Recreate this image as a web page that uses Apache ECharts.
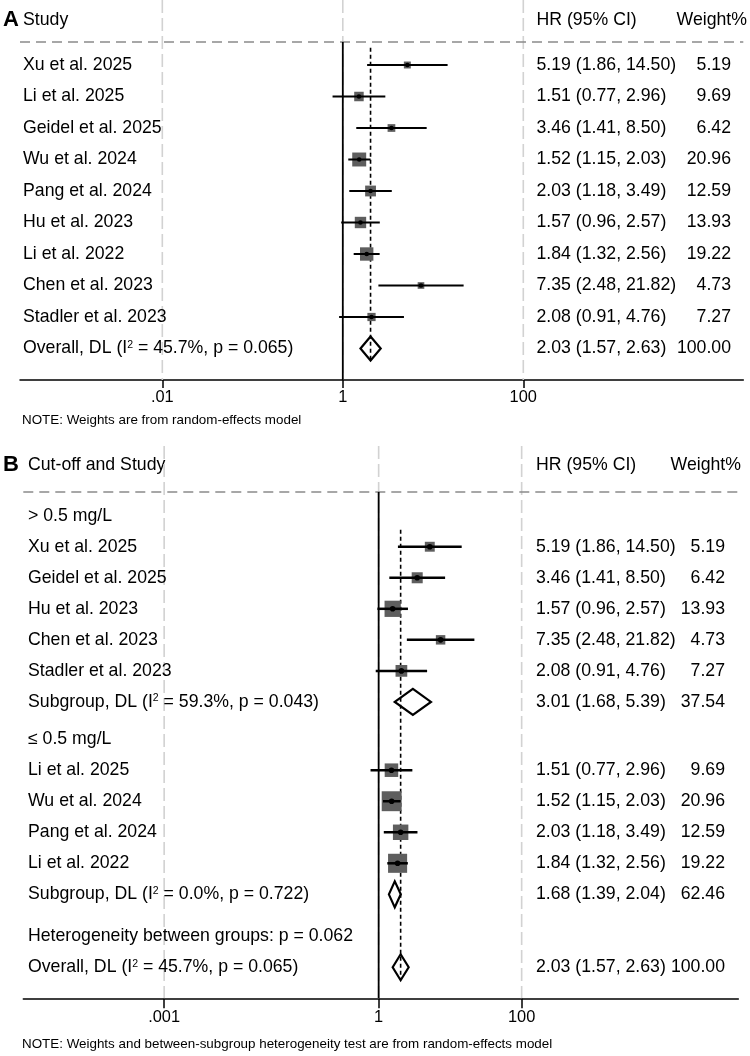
<!DOCTYPE html>
<html><head><meta charset="utf-8">
<script src="https://cdn.jsdelivr.net/npm/echarts@6/dist/echarts.min.js"></script>
<style>html,body{margin:0;padding:0;background:#fff}#c{width:750px;height:1056px}</style>
</head><body><div id="c"></div>
<script>
// ---------------- Panel A data ----------------
const studiesA = ['Xu et al. 2025','Li et al. 2025','Geidel et al. 2025','Wu et al. 2024','Pang et al. 2024','Hu et al. 2023','Li et al. 2022','Chen et al. 2023','Stadler et al. 2023'];
const hrA     = [5.19, 1.51, 3.46, 1.52, 2.03, 1.57, 1.84, 7.35, 2.08];
const lowA    = [1.86, 0.77, 1.41, 1.15, 1.18, 0.96, 1.32, 2.48, 0.91];
const highA   = [14.50, 2.96, 8.50, 2.03, 3.49, 2.57, 2.56, 21.82, 4.76];
const weightA = [5.19, 9.69, 6.42, 20.96, 12.59, 13.93, 19.22, 4.73, 7.27];
const overallLabelA = 'Overall, DL (I{sup|2} = 45.7%, p = 0.065)';
const overallA = [2.03, 1.57, 2.63, 100.00];   // HR, low, high, weight
const tickValuesA = [0.01, 1, 100];
const tickLabelsA = ['.01', '1', '100'];

// ---------------- Panel B data ----------------
const groupLabelsB = ['> 0.5 mg/L', '\u2264 0.5 mg/L'];
const studiesB1 = ['Xu et al. 2025','Geidel et al. 2025','Hu et al. 2023','Chen et al. 2023','Stadler et al. 2023'];
const hrB1     = [5.19, 3.46, 1.57, 7.35, 2.08];
const lowB1    = [1.86, 1.41, 0.96, 2.48, 0.91];
const highB1   = [14.50, 8.50, 2.57, 21.82, 4.76];
const weightB1 = [5.19, 6.42, 13.93, 4.73, 7.27];
const subgroupLabelB1 = 'Subgroup, DL (I{sup|2} = 59.3%, p = 0.043)';
const subgroupB1 = [3.01, 1.68, 5.39, 37.54];
const studiesB2 = ['Li et al. 2025','Wu et al. 2024','Pang et al. 2024','Li et al. 2022'];
const hrB2     = [1.51, 1.52, 2.03, 1.84];
const lowB2    = [0.77, 1.15, 1.18, 1.32];
const highB2   = [2.96, 2.03, 3.49, 2.56];
const weightB2 = [9.69, 20.96, 12.59, 19.22];
const subgroupLabelB2 = 'Subgroup, DL (I{sup|2} = 0.0%, p = 0.722)';
const subgroupB2 = [1.68, 1.39, 2.04, 62.46];
const hetLabelB = 'Heterogeneity between groups: p = 0.062';
const overallLabelB = 'Overall, DL (I{sup|2} = 45.7%, p = 0.065)';
const overallB = [2.03, 1.57, 2.63, 100.00];
const tickValuesB = [0.001, 1, 100];
const tickLabelsB = ['.001', '1', '100'];

// ---------------- build rows ----------------
function studyRows(names, hr, lo, hi, w) {
  return names.map((n, i) => ({type: 'study', label: n, hr: hr[i], lo: lo[i], hi: hi[i], w: w[i]}));
}
function pooledRow(type, label, arr) {
  return {type, label, hr: arr[0], lo: arr[1], hi: arr[2], w: arr[3]};
}
function place(rows) {
  let pos = 0;
  rows.forEach((r, i) => {
    if (i > 0) {
      pos += 1 + (rows[i-1].type === 'sub' ? 0.2 : 0) + (r.type === 'het' ? 0.15 : 0);
    }
    r.pos = pos;
  });
  return rows;
}
const rowsA = place([
  ...studyRows(studiesA, hrA, lowA, highA, weightA),
  pooledRow('overall', overallLabelA, overallA)
]);
const rowsB = place([
  {type: 'group', label: groupLabelsB[0]},
  ...studyRows(studiesB1, hrB1, lowB1, highB1, weightB1),
  pooledRow('sub', subgroupLabelB1, subgroupB1),
  {type: 'group', label: groupLabelsB[1]},
  ...studyRows(studiesB2, hrB2, lowB2, highB2, weightB2),
  pooledRow('sub', subgroupLabelB2, subgroupB2),
  {type: 'het', label: hetLabelB},
  pooledRow('overall', overallLabelB, overallB)
]);

// ---------------- layout (pixels) ----------------
const FONT = '"Liberation Sans", Arial, Helvetica, sans-serif';
const FS = 17.7;
const LA = {left: 20, right: 743.3, top: 0, firstY: 65, axisY: 380, headTextY: 20, headLineY: 42,
  letter: 'A', header: 'Study', nameX: 23, hrX: 536.5, wRight: 731, wHeadRight: 747,
  xMin: -3.577, xMax: 4.438, boxK: 3.05, dotR: 2.3, ciW: 2, dHalf: 12, tickLen: 8, labMargin: 9,
  note: 'NOTE: Weights are from random-effects model', noteY: 420,
  ticks: tickValuesA, tickLabels: tickLabelsA};
const LB = {left: 23.3, right: 738.3, top: 446, firstY: 515.7, axisY: 998.3, headTextY: 465, headLineY: 492,
  letter: 'B', header: 'Cut-off and Study', nameX: 28, hrX: 536, wRight: 725, wHeadRight: 741,
  xMin: -4.97, xMax: 5.03, boxK: 4.35, dotR: 2.8, ciW: 2.5, dHalf: 13, tickLen: 10, labMargin: 11,
  note: 'NOTE: Weights and between-subgroup heterogeneity test are from random-effects model', noteY: 1044,
  ticks: tickValuesB, tickLabels: tickLabelsB};

const fmt = v => v.toFixed(2);
const richSup = {sup: {fontSize: 10.5, fontFamily: FONT, fill: '#000', verticalAlign: 'top'}};

const option = {
  animation: false,
  backgroundColor: '#fff',
  grid: [], xAxis: [], yAxis: [], series: [], graphic: []
};

function buildPanel(rows, L, gi) {
  const last = rows[rows.length - 1].pos;
  const yMax = last + 1;
  const unit = (L.axisY - L.firstY) / yMax;
  const yMin = -(L.firstY - L.top) / unit;
  const toIdx = py => (py - L.firstY) / unit;
  const hdrIdx = toIdx(L.headLineY);

  option.grid.push({left: L.left, top: L.top, width: L.right - L.left, height: L.axisY - L.top,
    containLabel: false, outerBoundsMode: 'none'});
  const tickLog = L.ticks.map(Math.log10);
  option.xAxis.push({
    type: 'value', gridIndex: gi, min: L.xMin, max: L.xMax,
    axisLine: {onZero: false, lineStyle: {color: '#000', width: 1.5}},
    axisTick: {customValues: tickLog, length: L.tickLen, lineStyle: {color: '#000', width: 1.5}},
    axisLabel: {customValues: tickLog, margin: L.labMargin, color: '#000', fontSize: 16.4, fontFamily: FONT,
      formatter: v => { let k = 0, d = 1e9; tickLog.forEach((t, i) => { if (Math.abs(t - v) < d) { d = Math.abs(t - v); k = i; } }); return L.tickLabels[k]; }},
    splitLine: {show: false}
  });
  option.yAxis.push({type: 'value', gridIndex: gi, inverse: true, min: yMin, max: yMax, show: false, splitLine: {show: false}});

  // light grey dashed guide lines at the tick values
  option.series.push({
    type: 'custom', xAxisIndex: gi, yAxisIndex: gi, silent: true, z: 1,
    data: tickLog.map(t => [t, 0]),
    renderItem: (params, api) => {
      const x = api.coord([api.value(0), 0])[0];
      const cs = params.coordSys;
      return {type: 'line', shape: {x1: x, y1: cs.y, x2: x, y2: cs.y + cs.height},
        style: {stroke: '#d2d2d2', lineWidth: 1.6, lineDash: [13, 5]}};
    }
  });
  // header dashed line
  option.series.push({
    type: 'line', xAxisIndex: gi, yAxisIndex: gi, silent: true, symbol: 'none', z: 2,
    data: [[L.xMin, hdrIdx], [L.xMax, hdrIdx]],
    lineStyle: {color: '#8a8a8a', width: 1.3, type: [10, 6]}
  });
  // null line at HR = 1
  option.series.push({
    type: 'line', xAxisIndex: gi, yAxisIndex: gi, silent: true, symbol: 'none', z: 3,
    data: [[0, hdrIdx], [0, yMax]],
    lineStyle: {color: '#000', width: 1.8}
  });
  // overall effect dashed line
  const ov = rows.find(r => r.type === 'overall');
  const firstStudy = rows.find(r => r.type === 'study');
  option.series.push({
    type: 'line', xAxisIndex: gi, yAxisIndex: gi, silent: true, symbol: 'none', z: 4,
    data: [[Math.log10(ov.hr), firstStudy.pos - 0.55], [Math.log10(ov.hr), ov.pos + 0.4]],
    lineStyle: {color: '#000', width: 1.6, type: [4, 3]}
  });
  // pooled diamonds
  const pooled = rows.filter(r => r.type === 'sub' || r.type === 'overall');
  option.series.push({
    type: 'custom', xAxisIndex: gi, yAxisIndex: gi, silent: true, z: 5,
    data: pooled.map(r => [Math.log10(r.hr), r.pos, Math.log10(r.lo), Math.log10(r.hi)]),
    encode: {x: [0, 2, 3], y: 1},
    renderItem: (params, api) => {
      const c = api.coord([api.value(0), api.value(1)]);
      const l = api.coord([api.value(2), api.value(1)]);
      const h = api.coord([api.value(3), api.value(1)]);
      return {type: 'polygon', shape: {points: [[l[0], c[1]], [c[0], c[1] - L.dHalf], [h[0], c[1]], [c[0], c[1] + L.dHalf]]},
        style: {fill: 'none', stroke: '#000', lineWidth: 2.2}};
    }
  });
  // study boxes, CIs and point markers
  const studies = rows.filter(r => r.type === 'study');
  option.series.push({
    type: 'custom', xAxisIndex: gi, yAxisIndex: gi, silent: true, z: 6,
    data: studies.map(r => [Math.log10(r.hr), r.pos, Math.log10(r.lo), Math.log10(r.hi), r.w]),
    encode: {x: [0, 2, 3], y: 1},
    renderItem: (params, api) => {
      const c = api.coord([api.value(0), api.value(1)]);
      const l = api.coord([api.value(2), api.value(1)]);
      const h = api.coord([api.value(3), api.value(1)]);
      const s = L.boxK * Math.sqrt(api.value(4));
      return {type: 'group', children: [
        {type: 'rect', shape: {x: c[0] - s / 2, y: c[1] - s / 2, width: s, height: s}, style: {fill: '#5e5e5e'}},
        {type: 'line', shape: {x1: l[0], y1: c[1], x2: h[0], y2: c[1]}, style: {stroke: '#000', lineWidth: L.ciW}},
        {type: 'circle', shape: {cx: c[0], cy: c[1], r: L.dotR}, style: {fill: '#000'}}
      ]};
    }
  });
  // text columns
  option.series.push({
    type: 'custom', xAxisIndex: gi, yAxisIndex: gi, silent: true, z: 7,
    data: rows.map(r => [0, r.pos]),
    encode: {x: 0, y: 1},
    renderItem: (params, api) => {
      const r = rows[params.dataIndex];
      const y = api.coord([0, api.value(1)])[1];
      const base = {fill: '#000', fontSize: FS, fontFamily: FONT, verticalAlign: 'middle'};
      const ch = [{type: 'text', x: L.nameX, y: y, style: Object.assign({text: r.label, align: 'left', rich: richSup}, base)}];
      if (r.hr != null) {
        ch.push({type: 'text', x: L.hrX, y: y, style: Object.assign({text: fmt(r.hr) + ' (' + fmt(r.lo) + ', ' + fmt(r.hi) + ')', align: 'left'}, base)});
        ch.push({type: 'text', x: L.wRight, y: y, style: Object.assign({text: fmt(r.w), align: 'right'}, base)});
      }
      return {type: 'group', children: ch};
    }
  });
  // headers and note
  const t = (x, y, text, extra) => ({type: 'text', x, y, silent: true,
    style: Object.assign({text, fill: '#000', fontSize: FS, fontFamily: FONT, align: 'left', verticalAlign: 'middle',
      textAlign: 'left', textVerticalAlign: 'middle'}, extra || {})});
  option.graphic.push(
    t(3, L.headTextY, L.letter, {fontSize: 22, fontWeight: 'bold'}),
    t(L.nameX, L.headTextY, L.header),
    t(L.hrX, L.headTextY, 'HR (95% CI)'),
    t(L.wHeadRight, L.headTextY, 'Weight%', {align: 'right', textAlign: 'right'}),
    t(22, L.noteY, L.note, {fontSize: 13.4})
  );
}
buildPanel(rowsA, LA, 0);
buildPanel(rowsB, LB, 1);

const chart = echarts.init(document.getElementById('c'), null, {renderer: 'canvas'});
chart.setOption(option);
</script>
</body></html>
